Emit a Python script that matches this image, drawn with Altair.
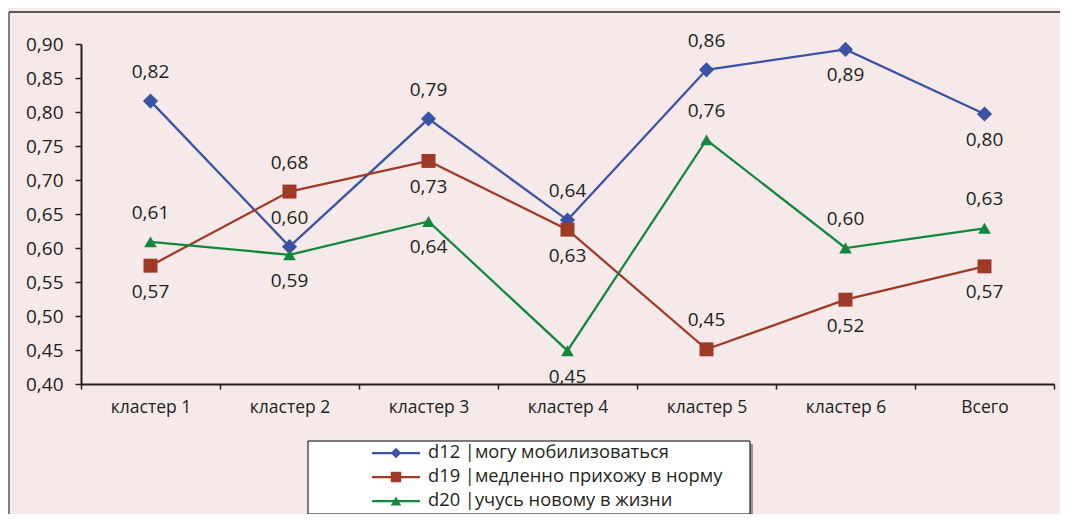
import altair as alt
import pandas as pd

categories = ["кластер 1", "кластер 2", "кластер 3", "кластер 4", "кластер 5", "кластер 6", "Всего"]
series = ["d12 |могу мобилизоваться", "d19 |медленно прихожу в норму", "d20 |учусь новому в жизни"]

d12 = [0.816, 0.602, 0.790, 0.641, 0.862, 0.892, 0.797]
d19 = [0.574, 0.683, 0.728, 0.627, 0.451, 0.524, 0.573]
d20 = [0.609, 0.590, 0.639, 0.449, 0.759, 0.600, 0.629]

# label placement relative to the marker
d12_pos = ["above", "above", "above", "above", "above", "below", "below"]
d19_pos = ["below", "above", "below", "below", "above", "below", "below"]
d20_pos = ["above", "below", "below", "below", "above", "above", "above"]

y_ticks = [0.40, 0.45, 0.50, 0.55, 0.60, 0.65, 0.70, 0.75, 0.80, 0.85, 0.90]

colors = ["#3A53A4", "#9E3A26", "#14873F"]
shapes = ["diamond", "square", "triangle-up"]
sizes = [230, 160, 230]

rows = []
for s, vals, poss in zip(series, [d12, d19, d20], [d12_pos, d19_pos, d20_pos]):
    for c, v, p in zip(categories, vals, poss):
        rows.append({"category": c, "series": s, "value": v, "pos": p})
df = pd.DataFrame(rows)
legend_df = pd.DataFrame({"series": series})

FONT = "Open Sans"
TXT = "#231F20"
BG = "#F6E9E9"

x_enc = alt.X(
    "category:N", sort=categories,
    scale=alt.Scale(type="band", paddingInner=0, paddingOuter=0),
    axis=alt.Axis(title=None, labelAngle=0, tickBand="extent", tickSize=5,
                  labelPadding=9, labelFontSize=17.5, labelFont=FONT, labelColor=TXT,
                  domainColor=TXT, tickColor=TXT, domainWidth=2, tickWidth=1.5),
)
y_enc = alt.Y(
    "value:Q",
    scale=alt.Scale(domain=[0.4, 0.9], nice=False, zero=False),
    axis=alt.Axis(title=None, values=y_ticks, grid=False, tickSize=6, labelPadding=12,
                  labelExpr="replace(format(datum.value, '.2f'), '.', ',')",
                  labelFontSize=19, labelFont=FONT, labelColor=TXT,
                  domainColor=TXT, tickColor=TXT, domainWidth=2, tickWidth=1.5),
)
color_enc = alt.Color("series:N", sort=series,
                      scale=alt.Scale(domain=series, range=colors), legend=None)
shape_enc = alt.Shape("series:N", sort=series,
                      scale=alt.Scale(domain=series, range=shapes), legend=None)
size_enc = alt.Size("series:O", sort=series,
                    scale=alt.Scale(domain=series, range=sizes), legend=None)

base = alt.Chart(df)
lines = base.mark_line(strokeWidth=2.25).encode(x=x_enc, y=y_enc, color=color_enc)
points = base.mark_point(filled=True, opacity=1).encode(
    x=x_enc, y=y_enc, color=color_enc, shape=shape_enc, size=size_enc)
lbl_expr = "replace(format(datum.value, '.2f'), '.', ',')"
labels_above = base.transform_filter("datum.pos == 'above'").transform_calculate(
    lbl=lbl_expr).mark_text(dy=-29, fontSize=19, font=FONT, color=TXT).encode(
    x=x_enc, y=y_enc, text="lbl:N")
labels_below = base.transform_filter("datum.pos == 'below'").transform_calculate(
    lbl=lbl_expr).mark_text(dy=26, fontSize=19, font=FONT, color=TXT).encode(
    x=x_enc, y=y_enc, text="lbl:N")

main = alt.layer(lines, points, labels_above, labels_below)

# outer frame
frame_df = pd.DataFrame({"k": [0]})
frame_top = alt.Chart(frame_df).mark_rule(color="#5F5858", strokeWidth=2).encode(
    x=alt.value(-72), x2=alt.value(1100), y=alt.value(-32))
frame_left = alt.Chart(frame_df).mark_rule(color="#5F5858", strokeWidth=1.5).encode(
    x=alt.value(-72), y=alt.value(-32), y2=alt.value(700))

# legend
ly = alt.Y("series:N", sort=series,
           scale=alt.Scale(type="point", domain=series, range=[409, 457], padding=0),
           axis=None)
leg_shadow = alt.Chart(frame_df).mark_rect(color="#9A9494").encode(
    x=alt.value(230), x2=alt.value(672), y=alt.value(400), y2=alt.value(473))
leg_box = alt.Chart(frame_df).mark_rect(fill="white", stroke="black", strokeWidth=1).encode(
    x=alt.value(227), x2=alt.value(669), y=alt.value(397), y2=alt.value(470))
leg_rule = alt.Chart(legend_df).mark_rule(strokeWidth=2.25).encode(
    x=alt.value(291), x2=alt.value(339), y=ly, color=color_enc)
leg_pt = alt.Chart(legend_df).mark_point(filled=True, opacity=1, size=110).encode(
    x=alt.value(315), y=ly, color=color_enc, shape=shape_enc)
leg_txt = alt.Chart(legend_df).mark_text(
    align="left", baseline="middle", fontSize=18.3, font=FONT, color=TXT).encode(
    x=alt.value(347), y=ly, text="series:N")
legend = alt.layer(leg_shadow, leg_box, leg_rule, leg_pt, leg_txt)

chart = alt.layer(frame_top, frame_left, main, legend).resolve_scale(
    y="independent"
).properties(
    width=973, height=340,
    padding={"left": 73, "top": 36, "right": 6, "bottom": 130},
    autosize="none",
    background=BG,
).configure_view(stroke=None)

chart.save("out.html", embed_options={"renderer": "svg", "actions": False})
